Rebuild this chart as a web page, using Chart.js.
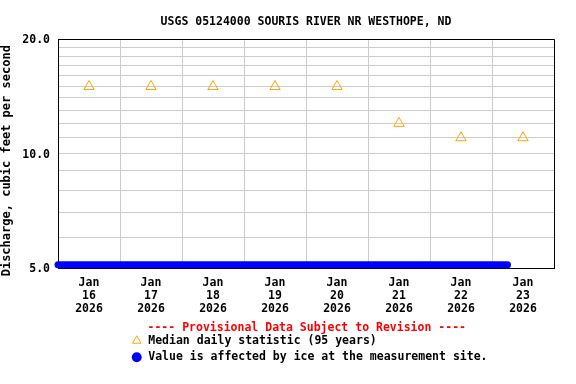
<!DOCTYPE html>
<html>
<head>
<meta charset="utf-8">
<script src="https://cdn.jsdelivr.net/npm/chart.js@4/dist/chart.umd.min.js"></script>
<style>
html,body{margin:0;padding:0;background:#ffffff;}
canvas{display:block;}
</style>
</head>
<body>
<canvas id="c" width="576" height="384"></canvas>
<script>
const chartTitle = 'USGS 05124000 SOURIS RIVER NR WESTHOPE, ND';
const yAxisTitle = 'Discharge, cubic feet per second';
const provisionalNote = '---- Provisional Data Subject to Revision ----';
const medianLabel = 'Median daily statistic (95 years)';
const iceLabel = 'Value is affected by ice at the measurement site.';

const axisStart = '2026-01-16 00:00';
const axisEnd = '2026-01-24 00:00';

const tickDates = ['2026-01-16 12:00','2026-01-17 12:00','2026-01-18 12:00','2026-01-19 12:00',
                   '2026-01-20 12:00','2026-01-21 12:00','2026-01-22 12:00','2026-01-23 12:00'];
const tickLabels = [['Jan','16','2026'],['Jan','17','2026'],['Jan','18','2026'],['Jan','19','2026'],
                    ['Jan','20','2026'],['Jan','21','2026'],['Jan','22','2026'],['Jan','23','2026']];

const medianDates = ['2026-01-16 12:00','2026-01-17 12:00','2026-01-18 12:00','2026-01-19 12:00',
                     '2026-01-20 12:00','2026-01-21 12:00','2026-01-22 12:00','2026-01-23 12:00'];
const medianValues = [15, 15, 15, 15, 15, 12, 11, 11];

const iceTimes = [
  '2026-01-16 00:00','2026-01-16 06:00','2026-01-16 12:00','2026-01-16 18:00',
  '2026-01-17 00:00','2026-01-17 06:00','2026-01-17 12:00','2026-01-17 18:00',
  '2026-01-18 00:00','2026-01-18 06:00','2026-01-18 12:00','2026-01-18 18:00',
  '2026-01-19 00:00','2026-01-19 06:00','2026-01-19 12:00','2026-01-19 18:00',
  '2026-01-20 00:00','2026-01-20 06:00','2026-01-20 12:00','2026-01-20 18:00',
  '2026-01-21 00:00','2026-01-21 06:00','2026-01-21 12:00','2026-01-21 18:00',
  '2026-01-22 00:00','2026-01-22 06:00','2026-01-22 12:00','2026-01-22 18:00',
  '2026-01-23 00:00','2026-01-23 06:00'
];
const iceValues = [
  5.1, 5.1, 5.1, 5.1,
  5.1, 5.1, 5.1, 5.1,
  5.1, 5.1, 5.1, 5.1,
  5.1, 5.1, 5.1, 5.1,
  5.1, 5.1, 5.1, 5.1,
  5.1, 5.1, 5.1, 5.1,
  5.1, 5.1, 5.1, 5.1,
  5.1, 5.1
];

const yMin = 5;
const yMax = 20;
const yGridValues = [5, 6, 7, 8, 9, 10, 11, 12, 13, 14, 15, 16, 17, 18, 19, 20];
const yLabelValues = [5, 10, 20];

function parseTime(s) {
  const [d, t] = s.split(' ');
  const [Y, M, D] = d.split('-').map(Number);
  const [h, m] = t.split(':').map(Number);
  return Date.UTC(Y, M - 1, D, h, m);
}
const t0 = parseTime(axisStart);
function toDays(s) { return (parseTime(s) - t0) / 86400000; }

const mono = "'DejaVu Sans Mono', 'Liberation Mono', monospace";
const baseFont = { family: mono, size: 11.5, weight: 'bold' };
Chart.defaults.font.family = mono;

const PAD_BOTTOM = 11;

const layoutFix = {
  id: 'layoutFix',
  afterLayout(chart) {
    const a = chart.chartArea;
    if (chart.titleBlock) {
      chart.titleBlock.left = a.left;
      chart.titleBlock.right = a.right;
      chart.titleBlock.width = a.right - a.left;
    }
    if (chart.legend) {
      chart.legend.left = 126;
    }
  }
};

const frame = {
  id: 'frame',
  beforeDatasetsDraw(chart) {
    const { ctx, chartArea: a } = chart;
    ctx.save();
    ctx.strokeStyle = '#000000';
    ctx.lineWidth = 1;
    ctx.beginPath();
    const top = Math.round(a.top) + 0.5;
    const right = Math.round(a.right) + 0.5;
    ctx.moveTo(a.left, top);
    ctx.lineTo(right, top);
    ctx.lineTo(right, Math.round(a.bottom) + 1);
    ctx.stroke();
    ctx.restore();
  }
};

new Chart(document.getElementById('c'), {
  type: 'line',
  data: {
    datasets: [
      {
        label: medianLabel,
        data: medianDates.map((d, i) => ({ x: toDays(d), y: medianValues[i] })),
        showLine: false,
        pointStyle: 'triangle',
        pointRadius: 6,
        pointHoverRadius: 6,
        pointBorderWidth: 1,
        pointBorderColor: '#FFA500',
        pointBackgroundColor: 'rgba(0,0,0,0)',
        borderColor: '#FFA500',
        backgroundColor: 'rgba(0,0,0,0)',
        borderWidth: 1
      },
      {
        label: iceLabel,
        data: iceTimes.map((d, i) => ({ x: toDays(d), y: iceValues[i] })),
        borderColor: '#0000FF',
        backgroundColor: '#0000FF',
        borderWidth: 7,
        borderCapStyle: 'round',
        borderJoinStyle: 'round',
        tension: 0,
        pointStyle: 'circle',
        pointRadius: 0,
        pointHoverRadius: 0,
        pointBorderWidth: 0,
        pointBackgroundColor: '#0000FF',
        pointBorderColor: '#0000FF',
        clip: false
      }
    ]
  },
  options: {
    responsive: false,
    animation: false,
    devicePixelRatio: 1,
    events: [],
    layout: { padding: { left: 0, right: 22, top: 0, bottom: PAD_BOTTOM } },
    scales: {
      x: {
        type: 'linear',
        min: toDays(axisStart),
        max: toDays(axisEnd),
        afterBuildTicks: (s) => { s.ticks = tickDates.map(d => ({ value: toDays(d) })); },
        afterFit: (s) => { s.height = 384 - PAD_BOTTOM - 268 - s.chart.legend.height; },
        ticks: {
          autoSkip: false,
          maxRotation: 0,
          minRotation: 0,
          padding: 8,
          color: '#000000',
          font: Object.assign({}, baseFont, { lineHeight: 1.15 }),
          callback: (v, i) => tickLabels[i]
        },
        grid: { offset: true, drawTicks: false, color: '#cccccc', lineWidth: 1 },
        border: { color: '#000000', width: 1 }
      },
      y: {
        type: 'logarithmic',
        min: yMin,
        max: yMax,
        afterBuildTicks: (s) => { s.ticks = yGridValues.map(v => ({ value: v })); },
        afterFit: (s) => { s.width = 58; },
        ticks: {
          autoSkip: false,
          padding: 8,
          labelOffset: 1.5,
          color: '#000000',
          font: baseFont,
          callback: (v) => yLabelValues.includes(v) ? Number(v).toFixed(1) : ''
        },
        grid: { drawTicks: false, color: '#cccccc', lineWidth: 1 },
        border: { color: '#000000', width: 1 },
        title: {
          display: true,
          text: yAxisTitle + '  ',
          color: '#000000',
          font: { family: mono, size: 12, weight: 'bold', lineHeight: 1.1 },
          padding: { top: 0, bottom: 0 }
        }
      }
    },
    plugins: {
      title: {
        display: true,
        text: chartTitle,
        color: '#000000',
        font: Object.assign({}, baseFont, { lineHeight: 1.2 }),
        padding: { top: 15, bottom: 10.2 }
      },
      legend: {
        position: 'bottom',
        align: 'start',
        title: {
          display: true,
          text: provisionalNote,
          color: '#FF0000',
          font: Object.assign({}, baseFont, { lineHeight: 0.7 }),
          padding: { top: 6, bottom: 0 }
        },
        labels: {
          usePointStyle: true,
          boxHeight: 7,
          padding: 5,
          color: '#000000',
          font: baseFont,
          generateLabels: (chart) => {
            const items = Chart.defaults.plugins.legend.labels.generateLabels(chart);
            items[0].fillStyle = 'rgba(0,0,0,0)';
            items[0].strokeStyle = '#FFA500';
            items[0].lineWidth = 1;
            items[1].fillStyle = '#0000FF';
            items[1].strokeStyle = '#0000FF';
            items[1].lineWidth = 0;
            return items;
          }
        }
      },
      tooltip: { enabled: false }
    }
  },
  plugins: [layoutFix, frame]
});
</script>
</body>
</html>
